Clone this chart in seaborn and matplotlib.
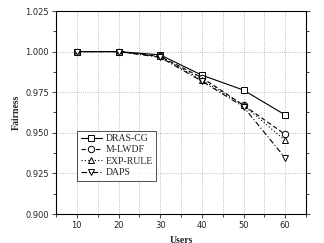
import matplotlib
matplotlib.use("Agg")
import matplotlib.pyplot as plt
import numpy as np
import pandas as pd
import seaborn as sns
from matplotlib.ticker import MultipleLocator

users = [10, 20, 30, 40, 50, 60]
dras_cg = [1.000, 1.000, 0.998, 0.9855, 0.9763, 0.961]
m_lwdf = [1.000, 1.000, 0.997, 0.984, 0.967, 0.949]
exp_rule = [1.000, 1.000, 0.997, 0.9826, 0.967, 0.9453]
daps = [1.000, 1.000, 0.9965, 0.9818, 0.966, 0.9345]

series = {
    'DRAS-CG': (dras_cg, '-', 's'),
    'M-LWDF': (m_lwdf, (0, (4, 2.5)), 'o'),
    'EXP-RULE': (exp_rule, (0, (1, 2)), '^'),
    'DAPS': (daps, (0, (5, 2, 1, 2)), 'v'),
}

sns.set_style('ticks')
fig = plt.figure(figsize=(3.24, 2.43), dpi=100)
ax = fig.add_axes([56 / 324, 1 - 214 / 243, 250 / 324, 203 / 243])

for name, (vals, ls, mk) in series.items():
    sns.lineplot(x=users, y=vals, ax=ax, color='black', linestyle=ls, lw=0.8,
                 marker=mk, markersize=4.6, markerfacecolor='white',
                 markeredgecolor='black', markeredgewidth=0.7, label=name)

ax.set_xlim(5, 65)
ax.set_ylim(0.900, 1.025)
ax.xaxis.set_major_locator(MultipleLocator(10))
ax.xaxis.set_minor_locator(MultipleLocator(5))
ax.yaxis.set_major_locator(MultipleLocator(0.025))
ax.yaxis.set_minor_locator(MultipleLocator(0.0125))
ax.set_xticks([10, 20, 30, 40, 50, 60])
ax.grid(True, axis='x', which='both', linestyle=':', color='#aaaaaa', linewidth=0.6)
ax.grid(True, axis='y', which='major', linestyle=':', color='#aaaaaa', linewidth=0.6)
ax.yaxis.set_major_formatter(plt.FuncFormatter(lambda v, p: f'{v:.3f}'))

for s in ax.spines.values():
    s.set_visible(True)
    s.set_linewidth(0.8)
    s.set_color('black')
ax.tick_params(which='both', direction='out', labelsize=6, length=3, width=0.6,
               right=True, top=False, pad=2)
ax.tick_params(which='minor', length=2)
for lbl in ax.get_xticklabels() + ax.get_yticklabels():
    lbl.set_family('DejaVu Sans')

ax.set_xlabel('Users', family='Liberation Serif', fontweight='bold', fontsize=7,
              labelpad=4)
ax.set_ylabel('Fairness', family='Liberation Serif', fontweight='bold', fontsize=7,
              labelpad=3)

leg = ax.legend(loc='lower left', bbox_to_anchor=(0.065, 0.14), frameon=True,
                fancybox=False, edgecolor='black', handlelength=2.2,
                prop={'family': 'Liberation Serif', 'size': 7},
                labelspacing=0.25, borderpad=0.35, handletextpad=0.4)
leg.get_frame().set_linewidth(0.6)

fig.savefig('out.png', dpi=100)
